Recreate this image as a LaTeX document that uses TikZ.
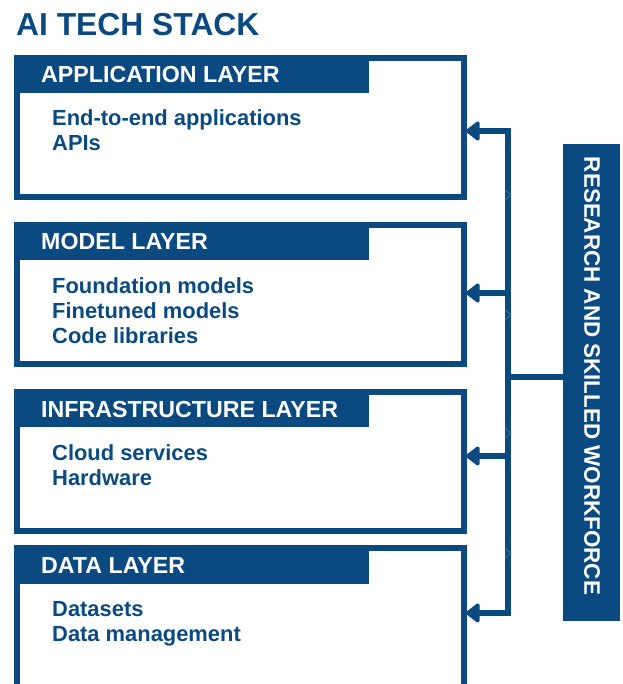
\documentclass[tikz,border=0pt]{standalone}
\usepackage{fontspec}
\setmainfont{Liberation Sans}
\usetikzlibrary{arrows.meta}
\definecolor{navy}{RGB}{10,74,128}
\begin{document}
\begin{tikzpicture}[x=1pt,y=-1pt,
  layerbox/.style={draw=navy, line width=6pt, minimum width=447pt, minimum height=139pt, anchor=north west, inner sep=0pt, outer sep=0pt},
  header/.style={fill=navy, minimum width=355pt, minimum height=38pt, anchor=north west, inner sep=0pt, outer sep=0pt},
  htext/.style={text=white, anchor=base west, inner sep=0pt, font=\fontsize{23.2}{27}\selectfont\bfseries},
  btext/.style={text=navy, anchor=base west, inner sep=0pt, font=\fontsize{21.9}{25}\selectfont\bfseries},
  conn/.style={draw=navy, line width=6pt},
  tip/.style={-{Triangle[length=15pt,width=22pt,round]}},
  chev/.style={draw=navy!80, line width=1pt},
]
\useasboundingbox (0,0) rectangle (622,684);
\clip (0,0) rectangle (622,684);

% title
\node[anchor=base west, inner sep=0pt, text=navy, font=\fontsize{31.8}{36}\selectfont\bfseries] (title) at (16,36) {AI TECH STACK};

% layer 1
\node[layerbox] (L1) at (17,58) {};
\node[header] (H1) at (14,55) {};
\node[htext] (T1) at (41,83) {APPLICATION LAYER};
\node[btext] (B1a) at (52,126) {End-to-end applications};
\node[btext] (B1b) at (52,151) {APIs};

% layer 2
\node[layerbox] (L2) at (17,225) {};
\node[header] (H2) at (14,222) {};
\node[htext] (T2) at (41,250) {MODEL LAYER};
\node[btext] (B2a) at (52,293) {Foundation models};
\node[btext] (B2b) at (52,318) {Finetuned models};
\node[btext] (B2c) at (52,343) {Code libraries};

% layer 3
\node[layerbox] (L3) at (17,392) {};
\node[header] (H3) at (14,389) {};
\node[htext] (T3) at (41,417) {INFRASTRUCTURE LAYER};
\node[btext] (B3a) at (52,460) {Cloud services};
\node[btext] (B3b) at (52,485) {Hardware};

% layer 4
\node[layerbox, minimum height=200pt] (L4) at (17,548) {};
\node[header, minimum height=39pt] (H4) at (14,545) {};
\node[htext] (T4) at (41,573) {DATA LAYER};
\node[btext] (B4a) at (52,616) {Datasets};
\node[btext] (B4b) at (52,641) {Data management};

% research box
\node[fill=navy, minimum width=57pt, minimum height=477pt, anchor=north west, inner sep=0pt, outer sep=0pt] (R) at (563,144) {};
\node[rotate=-90, text=white, inner sep=0pt, font=\fontsize{22.4}{26}\selectfont\bfseries] (RT) at (592,376) {RESEARCH AND SKILLED WORKFORCE};

% connectors
\coordinate (J1) at (508,131);
\coordinate (J2) at (508,293);
\coordinate (J3) at (508,456);
\coordinate (J4) at (508,613);
\coordinate (JR) at (508,377);
\coordinate (E1) at ([xshift=2pt]L1.east);
\coordinate (E2) at ([xshift=2pt]L2.east);
\coordinate (E3) at ([xshift=2pt]L3.east);
\coordinate (E4) at ([xshift=2pt]L4.east);

\draw[conn, line join=miter, {Triangle[length=15pt,width=22pt,round]}-{Triangle[length=15pt,width=22pt,round]}] (E1 |- J1) -- (J1) -- (J4) -- (E4 |- J4);
\draw[conn, tip] (J2) -- (E2 |- J2);
\draw[conn, tip] (J3) -- (E3 |- J3);
\draw[conn] (R.west |- JR) -- ([xshift=-3pt]JR);

% faint chevrons on the trunk
\draw[chev] (505,190) -- (511,195) -- (505,200);
\draw[chev] (505,310) -- (511,315) -- (505,320);
\draw[chev] (505,428) -- (511,433) -- (505,438);
\draw[chev] (505,548) -- (511,553) -- (505,558);
\end{tikzpicture}
\end{document}
